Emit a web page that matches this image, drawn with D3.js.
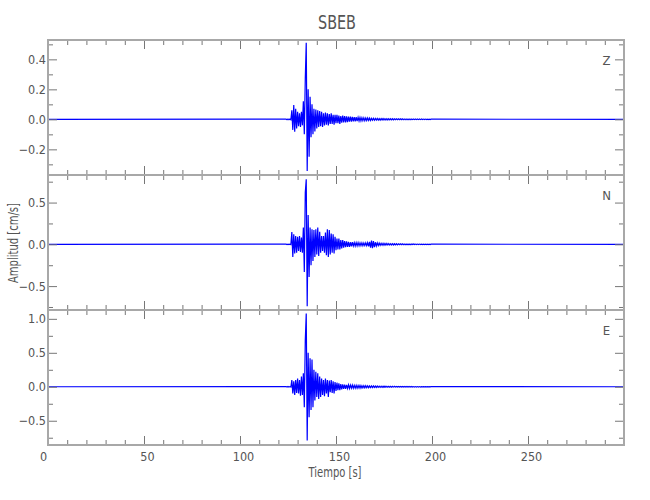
<!DOCTYPE html>
<html><head><meta charset="utf-8">
<script src="https://cdn.jsdelivr.net/npm/d3@7"></script>
<style>
body{margin:0;background:#fff;}
text{font-family:"DejaVu Sans Condensed","Liberation Sans Narrow",sans-serif;fill:#555;}
</style></head>
<body><svg id="chart" width="650" height="500"></svg>
<script>
const title = "SBEB";
const xLabel = "Tiempo [s]";
const yLabel = "Amplitud [cm/s]";
const channels = ["Z", "N", "E"];
const xTicks = [0, 50, 100, 150, 200, 250];
const sampleStart = 124, sampleStep = 0.5;   // sampling grid of the typed traces (s)
const traceEnd = 300;

const ampZ = [
 0.002,-0.002,0.003,-0.002,0.002,-0.003,0.060,-0.070,0.095,-0.083,
 0.070,-0.060,0.050,-0.045,0.040,-0.050,0.050,-0.040,0.120,-0.100,
 0.270,0.510,-0.345,0.200,-0.250,0.150,-0.120,0.100,-0.100,0.070,
 -0.080,0.065,-0.060,0.060,-0.050,0.055,-0.045,0.050,-0.050,0.040,
 -0.040,0.045,-0.035,0.040,-0.040,0.035,-0.030,0.040,-0.030,0.030,
 -0.035,0.030,-0.025,0.030,-0.025,0.025,-0.030,0.022,-0.022,0.025,
 -0.020,0.022,-0.020,0.020,-0.018,0.018,-0.016,0.018,-0.015,0.016,
 -0.014,0.015,-0.013,0.014,-0.012,0.013,-0.011,0.012,-0.010,0.011,
 -0.009,0.010,-0.009,0.009,-0.008,0.009,-0.007,0.008,-0.007,0.007,
 -0.006,0.007,-0.006,0.006,-0.005,0.006,-0.005,0.005,-0.005,0.005,
 -0.004,0.005,-0.004,0.004,-0.004,0.004,-0.004,0.004,-0.003,0.004,
 -0.003,0.004,-0.003,0.003,-0.003,0.003,-0.003,0.003,-0.003,0.003,
 -0.003,0.003,-0.002,0.003,-0.002,0.003,-0.002,0.002,-0.002,0.003,
 -0.002,0.002,-0.002,0.002,-0.002,0.002,-0.002,0.002,-0.002,0.002,
 -0.002,0.002,-0.001,0.002,-0.001,0.002,-0.001,0.001,-0.001,0.001,
 -0.001,0.001
];
const ampN = [
 0.002,-0.002,0.002,-0.003,0.003,-0.002,0.147,-0.150,0.120,-0.110,
 0.100,-0.100,0.090,-0.080,0.100,-0.090,0.080,-0.100,0.200,-0.330,
 0.620,0.780,-0.740,0.350,-0.390,0.200,-0.250,0.180,-0.200,0.170,
 -0.150,0.180,-0.120,0.200,-0.140,0.150,-0.100,0.100,-0.080,0.100,
 -0.100,0.140,-0.130,0.180,-0.150,0.170,-0.120,0.130,-0.100,0.120,
 -0.110,0.090,-0.070,0.070,-0.060,0.070,-0.060,0.050,-0.050,0.050,
 -0.040,0.040,-0.035,0.035,-0.030,0.030,-0.030,0.025,-0.025,0.025,
 -0.020,0.020,-0.020,0.020,-0.018,0.020,-0.018,0.018,-0.016,0.018,
 -0.016,0.016,-0.015,0.018,-0.016,0.020,-0.025,0.030,-0.040,0.045,
 -0.045,0.040,-0.035,0.025,-0.020,0.018,-0.015,0.014,-0.012,0.012,
 -0.010,0.012,-0.010,0.010,-0.009,0.010,-0.008,0.009,-0.008,0.008,
 -0.007,0.008,-0.007,0.007,-0.006,0.007,-0.006,0.006,-0.005,0.006,
 -0.005,0.005,-0.005,0.005,-0.004,0.005,-0.004,0.004,-0.004,0.004,
 -0.004,0.004,-0.003,0.004,-0.003,0.003,-0.003,0.003,-0.003,0.003,
 -0.003,0.003,-0.002,0.003,-0.002,0.002,-0.002,0.002,-0.002,0.002,
 -0.002,0.002
];
const ampE = [
 0.003,-0.003,0.004,-0.003,0.003,-0.004,0.100,-0.100,0.080,-0.120,
 0.100,-0.090,0.120,-0.100,0.100,-0.130,0.150,-0.120,0.200,-0.300,
 0.680,1.080,-0.790,0.500,-0.450,0.420,-0.340,0.400,-0.300,0.250,
 -0.200,0.220,-0.150,0.200,-0.180,0.150,-0.150,0.120,-0.120,0.100,
 -0.140,0.120,-0.100,0.100,-0.150,0.090,-0.080,0.100,-0.090,0.080,
 -0.100,0.070,-0.060,0.060,-0.050,0.050,-0.050,0.040,-0.040,0.035,
 -0.030,0.030,-0.030,0.028,-0.025,0.028,-0.025,0.025,-0.022,0.025,
 -0.022,0.020,-0.020,0.022,-0.020,0.018,-0.018,0.020,-0.018,0.016,
 -0.016,0.016,-0.015,0.015,-0.014,0.014,-0.013,0.013,-0.012,0.012,
 -0.011,0.012,-0.010,0.010,-0.010,0.010,-0.009,0.009,-0.008,0.009,
 -0.008,0.008,-0.007,0.008,-0.007,0.007,-0.006,0.007,-0.006,0.006,
 -0.006,0.006,-0.005,0.006,-0.005,0.005,-0.005,0.005,-0.004,0.005,
 -0.004,0.005,-0.004,0.004,-0.004,0.004,-0.004,0.004,-0.003,0.004,
 -0.003,0.004,-0.003,0.003,-0.003,0.003,-0.003,0.003,-0.003,0.003,
 -0.003,0.003,-0.002,0.003,-0.002,0.003,-0.002,0.002,-0.002,0.002,
 -0.002,0.002
];

const yDomains = [[-0.371, 0.529], [-0.786, 0.83], [-0.857, 1.13]];
const yTicksMajor = [[-0.2, 0.0, 0.2, 0.4], [-0.5, 0.0, 0.5], [-0.5, 0.0, 0.5, 1.0]];
const yTicksMinor = [[-0.3, -0.1, 0.1, 0.3, 0.5], [-0.75, -0.25, 0.25, 0.75], [-0.75, -0.25, 0.25, 0.75]];
const amps = [ampZ, ampN, ampE];

const svg = d3.select("#chart");
const left = 48, right = 624;
const panelTops = [40, 175, 310], panelH = 135;
const x = d3.scaleLinear().domain([0, 300]).range([left, right]);
const xMinor = d3.range(0, 301, 10);

const border = "#a8a8a8", tickCol = "#777";
const fontStack = '"DejaVu Sans Condensed","Liberation Sans Narrow",sans-serif';

channels.forEach((ch, i) => {
  const top = panelTops[i], bot = top + panelH;
  const y = d3.scaleLinear().domain(yDomains[i]).range([bot, top]);
  const g = svg.append("g");

  const pts = [[0, 0]].concat(amps[i].map((v, k) => [sampleStart + k * sampleStep, v]), [[traceEnd, 0]]);
  const line = d3.line().x(d => x(d[0])).y(d => y(d[1]));
  g.append("path").datum(pts).attr("d", line)
    .attr("fill", "none").attr("stroke", "#0000ff").attr("stroke-width", 1.2)
    .attr("stroke-linejoin", "miter");

  const axB = d3.axisBottom(x).tickValues(xTicks).tickSize(-9).tickFormat(i === 2 ? d3.format("d") : "");
  const axBm = d3.axisBottom(x).tickValues(xMinor).tickSize(-5).tickFormat("");
  const axT = d3.axisTop(x).tickValues(xTicks).tickSize(-9).tickFormat("");
  const axTm = d3.axisTop(x).tickValues(xMinor).tickSize(-5).tickFormat("");
  const axL = d3.axisLeft(y).tickValues(yTicksMajor[i]).tickSize(-9).tickPadding(2).tickFormat(d3.format(".1f"));
  const axLm = d3.axisLeft(y).tickValues(yTicksMinor[i]).tickSize(-5).tickFormat("");
  const axR = d3.axisRight(y).tickValues(yTicksMajor[i]).tickSize(-9).tickFormat("");
  const axRm = d3.axisRight(y).tickValues(yTicksMinor[i]).tickSize(-5).tickFormat("");

  const place = [[axB, `translate(0,${bot})`, "b"], [axBm, `translate(0,${bot})`, "bm"], [axT, `translate(0,${top})`, "t"], [axTm, `translate(0,${top})`, "tm"],
                 [axL, `translate(${left},0)`, "l"], [axLm, `translate(${left},0)`, "lm"], [axR, `translate(${right},0)`, "r"], [axRm, `translate(${right},0)`, "rm"]];
  place.forEach(([ax, tr, cls]) => {
    const a = g.append("g").attr("class", "ax-" + cls).attr("transform", tr).call(ax);
    a.select(".domain").remove();
    a.selectAll("line").attr("stroke", tickCol).attr("stroke-width", 1);
    a.selectAll("text").style("font-size", "12.5px").attr("fill", "#555").style("font-family", fontStack);
  });
  if (i === 2) {
    g.select(".ax-b").selectAll(".tick text").attr("dy", "1.0em").attr("dx", d => d === 0 ? -5 : 3);
  }

  g.append("rect").attr("x", left).attr("y", top).attr("width", right - left).attr("height", panelH)
    .attr("fill", "none").attr("stroke", border).attr("stroke-width", 2);

  g.append("text").attr("x", 606.5).attr("y", top + 25).attr("text-anchor", "middle")
    .style("font-size", "13px").text(ch);
});

svg.append("text").attr("x", 337).attr("y", 29).attr("text-anchor", "middle")
  .attr("textLength", 38).attr("lengthAdjust", "spacingAndGlyphs")
  .style("font-size", "20px").attr("fill", "#777").text(title);
svg.append("text").attr("x", 335).attr("y", 477).attr("text-anchor", "middle")
  .attr("textLength", 53).attr("lengthAdjust", "spacingAndGlyphs")
  .style("font-size", "14px").text(xLabel);
svg.append("text").attr("transform", "translate(18,243) rotate(-90)").attr("text-anchor", "middle")
  .attr("textLength", 80).attr("lengthAdjust", "spacingAndGlyphs")
  .style("font-size", "14px").text(yLabel);
</script></body></html>
